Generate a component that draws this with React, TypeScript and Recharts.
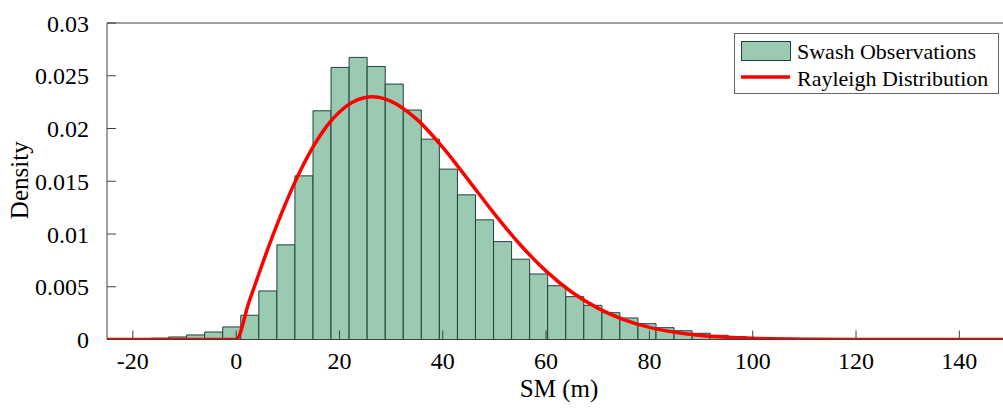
import React from 'react';
import { ComposedChart, Line, XAxis, YAxis, ReferenceArea, Legend } from 'recharts';

// Histogram bin edges (m) and densities
const binEdges = [
  -20.08, -16.58, -13.09, -9.59, -6.1, -2.6, 0.9, 4.39, 7.89, 11.38, 14.88, 18.37,
  21.87, 25.36, 28.86, 32.35, 35.85, 39.34, 42.84, 46.33, 49.83, 53.32, 56.82, 60.31,
  63.81, 67.3, 70.8, 74.29, 77.79, 81.28, 84.78, 88.27, 91.77, 95.26, 98.76,
];
const binDensity = [
  0.00003, 0.00012, 0.00024, 0.00043, 0.00071, 0.00119, 0.0023, 0.0046, 0.00897,
  0.01551, 0.02168, 0.02579, 0.02674, 0.02588, 0.02421, 0.02175, 0.01899, 0.01615,
  0.01371, 0.01134, 0.00928, 0.00761, 0.00621, 0.0051, 0.00406, 0.00324, 0.00254,
  0.00204, 0.0015, 0.00112, 0.00083, 0.00059, 0.0004, 0.00027,
];

// Fitted curve
const curveX = [
  -25, -10, 0, 2.5, 5, 7.5, 10, 12.5, 15, 17.5, 20, 22.5, 25, 26.4, 27.5, 30, 35, 40, 45,
  50, 55, 60, 65, 70, 75, 80, 85, 90, 95, 100, 110, 120, 135, 150,
];
const curveY = [
  0, 0, 0, 0.00358, 0.00706, 0.01036, 0.01338, 0.01606, 0.01835, 0.0202, 0.02157,
  0.02249, 0.02294, 0.023, 0.02296, 0.02258, 0.02086, 0.0182, 0.01509, 0.01191, 0.00898,
  0.00648, 0.00448, 0.00297, 0.00189, 0.00115, 0.00068, 0.00038, 0.00021, 0.00011,
  0.000026, 0.000005, 0, 0,
];

const xTicks = [-20, 0, 20, 40, 60, 80, 100, 120, 140];
const yTicks = [0, 0.005, 0.01, 0.015, 0.02, 0.025, 0.03];

const seriesNames = ['Swash Observations', 'Rayleigh Distribution'];

const FONT = '"Liberation Serif", "Times New Roman", serif';
const BAR_FILL = '#9bcab3';
const BAR_EDGE = '#22403a';
const AXIS = '#404040';

const curveData = curveX.map((x, i) => ({ x, density: curveY[i] }));

const tickStyle = { fill: '#000', fontSize: 24, fontFamily: FONT };

const DensityLabel = (props: any) => {
  const vb = props.viewBox || { x: 0, y: 23, width: 107, height: 316 };
  const cx = 28;
  const cy = vb.y + vb.height / 2 - 1;
  return (
    <text
      x={cx}
      y={cy}
      transform={`rotate(-90, ${cx}, ${cy})`}
      textAnchor="middle"
      fontFamily={FONT}
      fontSize={25}
      fill="#000"
    >
      Density
    </text>
  );
};

const SMLabel = (props: any) => {
  const vb = props.viewBox || { x: 107, y: 340, width: 904, height: 30 };
  return (
    <text
      x={vb.x + vb.width / 2}
      y={397}
      textAnchor="middle"
      fontFamily={FONT}
      fontSize={25}
      fill="#000"
    >
      SM (m)
    </text>
  );
};

const LegendBox = () => (
  <svg width={266} height={62} style={{ display: 'block' }}>
    <rect x={0.5} y={0.5} width={264} height={60} fill="#fff" stroke="#666" strokeWidth={1} />
    <rect x={7.5} y={8.5} width={49} height={19} fill={BAR_FILL} stroke={BAR_EDGE} strokeWidth={1} />
    <line x1={7} y1={44} x2={56} y2={44} stroke="#ff0000" strokeWidth={3.5} />
    <text x={63} y={26} fontFamily={FONT} fontSize={22} fill="#000">
      {seriesNames[0]}
    </text>
    <text x={63} y={53} fontFamily={FONT} fontSize={22} fill="#000">
      {seriesNames[1]}
    </text>
  </svg>
);

export default function App() {
  return (
    <div
      style={{
        position: 'absolute',
        left: 0,
        top: 0,
        width: 1003,
        height: 408,
        overflow: 'hidden',
        background: '#fff',
      }}
    >
      <ComposedChart
        width={1011}
        height={408}
        data={curveData}
        margin={{ top: 0, right: 0, bottom: 38.5, left: 0 }}
      >
        <XAxis
          xAxisId="top"
          orientation="top"
          type="number"
          dataKey="x"
          domain={[-25, 150]}
          ticks={xTicks}
          allowDataOverflow
          height={23}
          tick={false}
          tickSize={-9}
          stroke={AXIS}
          interval={0}
        />
        <XAxis
          type="number"
          dataKey="x"
          domain={[-25, 150]}
          ticks={xTicks}
          allowDataOverflow
          height={30}
          tick={tickStyle}
          tickSize={-9}
          tickMargin={21}
          stroke={AXIS}
          interval={0}
          label={<SMLabel />}
        />
        <YAxis
          type="number"
          domain={[0, 0.03]}
          ticks={yTicks}
          allowDataOverflow
          width={107}
          tick={tickStyle}
          tickSize={-9}
          tickMargin={27}
          stroke={AXIS}
          interval={0}
          label={<DensityLabel />}
        />
        {binDensity.map((d, i) => (
          <ReferenceArea
            key={i}
            x1={binEdges[i]}
            x2={binEdges[i + 1]}
            y1={0}
            y2={d}
            fill={BAR_FILL}
            fillOpacity={1}
            stroke={BAR_EDGE}
            strokeWidth={1}
            ifOverflow="visible"
          />
        ))}
        <Line
          type="monotone"
          dataKey="density"
          stroke="#ff0000"
          strokeWidth={3.5}
          dot={false}
          activeDot={false}
          isAnimationActive={false}
        />
        <Legend
          content={<LegendBox />}
          layout="horizontal"
          verticalAlign="middle"
          align="center"
          wrapperStyle={{ position: 'absolute', top: 33, left: 734, width: 266, height: 62, margin: 0, padding: 0 }}
        />
      </ComposedChart>
    </div>
  );
}
